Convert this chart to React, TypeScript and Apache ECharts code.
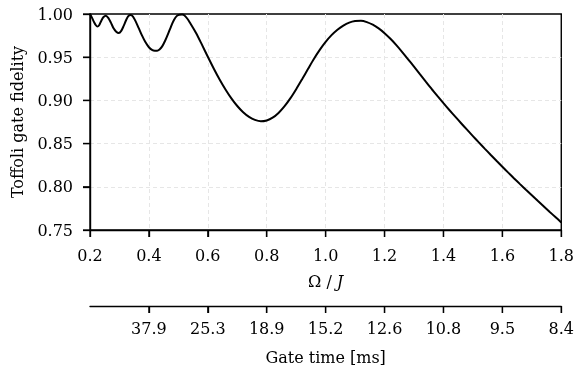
import React, { useEffect, useRef } from "react";
import * as echarts from "echarts";

// Ω / J values and Toffoli gate fidelity
const omega = [
  0.2, 0.207, 0.214, 0.22, 0.225, 0.231, 0.238, 0.246, 0.254, 0.262, 0.271, 0.28, 0.289, 0.298,
  0.306, 0.314, 0.322, 0.33, 0.338, 0.346, 0.355, 0.365, 0.376, 0.388, 0.4, 0.412, 0.42, 0.428,
  0.436, 0.445, 0.455, 0.465, 0.475, 0.485, 0.495, 0.504, 0.513, 0.52, 0.53, 0.54, 0.56, 0.58,
  0.6, 0.62, 0.64, 0.66, 0.68, 0.7, 0.72, 0.74, 0.76, 0.78, 0.8, 0.82, 0.84, 0.86, 0.88, 0.9,
  0.92, 0.94, 0.96, 0.98, 1.0, 1.02, 1.04, 1.06, 1.08, 1.1, 1.12, 1.14, 1.16, 1.18, 1.2, 1.22,
  1.24, 1.26, 1.28, 1.3, 1.32, 1.34, 1.36, 1.38, 1.4, 1.42, 1.44, 1.46, 1.48, 1.5, 1.52, 1.54,
  1.56, 1.58, 1.6, 1.62, 1.64, 1.66, 1.68, 1.7, 1.72, 1.74, 1.76, 1.78, 1.8,
];
const fidelity = [
  1.0, 0.9955, 0.9905, 0.987, 0.9855, 0.987, 0.992, 0.9965, 0.998, 0.9955, 0.99, 0.9835,
  0.9795, 0.978, 0.9805, 0.986, 0.9925, 0.9975, 0.9988, 0.997, 0.9915, 0.984, 0.9755, 0.9675,
  0.9615, 0.9582, 0.9576, 0.9576, 0.959, 0.9625, 0.969, 0.977, 0.9855, 0.993, 0.9978, 0.9992,
  0.9993, 0.9985, 0.9948, 0.9895, 0.978, 0.9645, 0.9505, 0.937, 0.9243, 0.9127, 0.9024, 0.8935,
  0.8863, 0.8809, 0.8774, 0.8758, 0.8768, 0.88, 0.8855, 0.893, 0.9023, 0.913, 0.9245, 0.9363,
  0.948, 0.9585, 0.9677, 0.9755, 0.9818, 0.9866, 0.99, 0.9918, 0.9921, 0.9906, 0.9876, 0.9833,
  0.9778, 0.9713, 0.964, 0.956, 0.9476, 0.939, 0.9303, 0.9217, 0.9132, 0.9049, 0.8968, 0.8889,
  0.8812, 0.8736, 0.8661, 0.8587, 0.8514, 0.8442, 0.8371, 0.8301, 0.8232, 0.8164, 0.8097,
  0.8031, 0.7966, 0.7902, 0.7838, 0.7775, 0.7712, 0.765, 0.7588,
];

// tick values
const omegaTicks = [0.2, 0.4, 0.6, 0.8, 1.0, 1.2, 1.4, 1.6, 1.8];
const fidelityTicks = [0.75, 0.8, 0.85, 0.9, 0.95, 1.0];
// secondary axis: gate time [ms] labels, one per Ω / J tick (none at 0.2)
const gateTimeCategories = ["", "37.9", "25.3", "18.9", "15.2", "12.6", "10.8", "9.5", "8.4"];

const FONT = "DejaVu Serif";
const FS = 16;
const TICK_LEN = 7;

function line() {
  return { show: true, onZero: false, lineStyle: { color: "#000", width: 1.4 } };
}
function tick(extra: any = {}) {
  return { show: true, inside: false, length: TICK_LEN, lineStyle: { color: "#000", width: 1.3 }, ...extra };
}
function grid() {
  return {
    show: true,
    showMinLine: false,
    showMaxLine: false,
    lineStyle: { color: "#e6e6e6", type: [4, 3], width: 1 },
  };
}
function label(extra: any = {}) {
  return { show: true, color: "#000", fontFamily: FONT, fontSize: FS, ...extra };
}

export default function App() {
  const ref = useRef<HTMLDivElement>(null);
  useEffect(() => {
    if (!ref.current) return;
    const chart = echarts.init(ref.current, null, { renderer: "svg" });
    chart.setOption({
      animation: false,
      textStyle: { fontFamily: FONT },
      grid: [
        {
          left: 90,
          right: 13,
          top: 14,
          bottom: 139,
          show: true,
          borderColor: "#000",
          borderWidth: 1.4,
          backgroundColor: "transparent",
        },
        { left: 90, right: 13, top: 305, height: 1 },
      ],
      xAxis: [
        {
          gridIndex: 0,
          type: "value",
          min: 0.2,
          max: 1.8,
          interval: 0.2,
          position: "bottom",
          axisLine: line(),
          axisTick: tick(),
          splitLine: grid(),
          axisLabel: label({ margin: 17, formatter: (v: number) => v.toFixed(1) }),
          name: "Ω / {i|J}",
          nameLocation: "middle",
          nameGap: 43,
          nameTextStyle: {
            color: "#000",
            fontFamily: FONT,
            fontSize: FS,
            rich: { i: { fontStyle: "italic", fontFamily: FONT, fontSize: FS, color: "#000" } },
          },
        },
        {
          gridIndex: 1,
          type: "category",
          data: gateTimeCategories,
          boundaryGap: false,
          position: "bottom",
          axisLine: line(),
          axisTick: tick({ interval: (i: number) => i > 0 }),
          splitLine: { show: false },
          axisLabel: label({ margin: 14, interval: 0 }),
          name: "Gate time [ms]",
          nameLocation: "middle",
          nameGap: 43,
          nameTextStyle: { color: "#000", fontFamily: FONT, fontSize: FS },
        },
      ],
      yAxis: [
        {
          gridIndex: 0,
          type: "value",
          min: 0.75,
          max: 1.0,
          interval: 0.05,
          position: "left",
          axisLine: line(),
          axisTick: tick(),
          splitLine: grid(),
          axisLabel: label({ margin: 17, formatter: (v: number) => v.toFixed(2) }),
          name: "Toffoli gate fidelity",
          nameLocation: "middle",
          nameGap: 65,
          nameTextStyle: { color: "#000", fontFamily: FONT, fontSize: FS },
        },
        { gridIndex: 1, type: "value", min: 0, max: 1, show: false },
      ],
      series: [
        {
          type: "line",
          xAxisIndex: 0,
          yAxisIndex: 0,
          data: omega.map((o, i) => [o, fidelity[i]]),
          showSymbol: false,
          smooth: 0.3,
          lineStyle: { color: "#000", width: 2 },
        },
      ],
    });

    // tick marks placed through the axes' own scales
    try {
      const tickStyle = { stroke: "#000", lineWidth: 1.3 };
      const elems: any[] = [];
      const yBottom = chart.convertToPixel({ yAxisIndex: 0 } as any, 0.75) as number;
      const xLeft = chart.convertToPixel({ xAxisIndex: 0 } as any, 0.2) as number;
      omegaTicks.forEach((v) => {
        const x = chart.convertToPixel({ xAxisIndex: 0 } as any, v) as number;
        elems.push({ type: "line", silent: true, z: 10, shape: { x1: x, y1: yBottom, x2: x, y2: yBottom + TICK_LEN }, style: tickStyle });
      });
      fidelityTicks.forEach((v) => {
        const y = chart.convertToPixel({ yAxisIndex: 0 } as any, v) as number;
        elems.push({ type: "line", silent: true, z: 10, shape: { x1: xLeft - TICK_LEN, y1: y, x2: xLeft, y2: y }, style: tickStyle });
      });
      const yGate = chart.convertToPixel({ yAxisIndex: 1 } as any, 0) as number;
      gateTimeCategories.forEach((c, i) => {
        if (i === 0) return;
        const x = chart.convertToPixel({ xAxisIndex: 1 } as any, i) as number;
        elems.push({ type: "line", silent: true, z: 10, shape: { x1: x, y1: yGate, x2: x, y2: yGate + TICK_LEN }, style: tickStyle });
      });
      if (elems.every((e) => isFinite(e.shape.x1) && isFinite(e.shape.y1))) {
        chart.setOption({ graphic: elems });
      }
    } catch (e) {
      // keep chart without extra ticks
    }
    return () => chart.dispose();
  }, []);
  return <div ref={ref} style={{ position: "fixed", left: 0, top: 0, width: 577, height: 369 }} />;
}
